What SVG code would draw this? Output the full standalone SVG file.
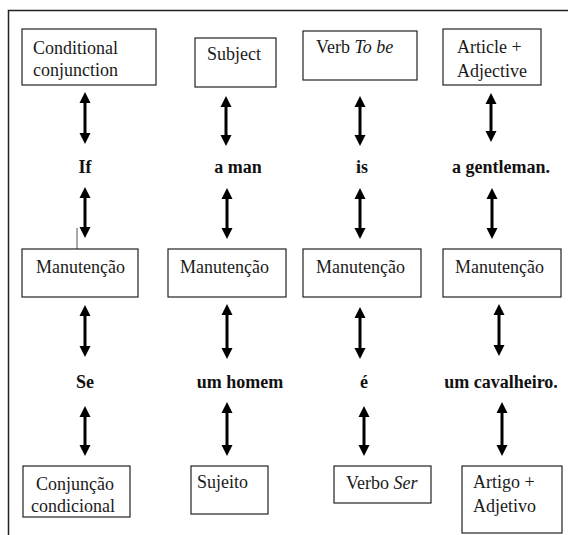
<svg xmlns="http://www.w3.org/2000/svg" width="568" height="535" viewBox="0 0 568 535">
  <style>
    .box { fill: #ffffff; stroke: #222222; stroke-width: 1.2; }
    .lbl { font-size: 18px; fill: #1a1a1a; }
    .word { font-size: 18px; font-weight: bold; fill: #111111; text-anchor: middle; }
    .arr { stroke: #000000; stroke-width: 3; marker-start: url(#head); marker-end: url(#head); }
    .frame { fill: none; stroke: #222222; stroke-width: 1.5; }
  </style>
  <defs>
    <marker id="head" markerUnits="userSpaceOnUse" markerWidth="12" markerHeight="12" viewBox="0 0 12 12" refX="1" refY="6" orient="auto-start-reverse">
      <path d="M0,0.5 L11,6 L0,11.5 Z" fill="#000000"/>
    </marker>
  </defs>

  <rect width="568" height="535" fill="#ffffff"/>

  <!-- page frame: top and left edges -->
  <path class="frame" d="M8.5,535 L8.5,10.5 L568,10.5"/>

  <!-- stray text cursor -->
  <line x1="77" y1="228" x2="77" y2="249" stroke="#555555" stroke-width="1"/>

  <g font-family="Liberation Serif, Times New Roman, DejaVu Serif, serif">
  <!-- English grammatical categories -->
  <g id="en-conjunction">
    <rect class="box" x="22" y="29" width="134" height="56"/>
    <text class="lbl" x="33" y="54">Conditional</text>
    <text class="lbl" x="33" y="76">conjunction</text>
  </g>
  <g id="en-subject">
    <rect class="box" x="195" y="38" width="81" height="49"/>
    <text class="lbl" x="207" y="60">Subject</text>
  </g>
  <g id="en-verb">
    <rect class="box" x="303" y="31" width="114" height="49"/>
    <text class="lbl" x="316" y="53">Verb <tspan font-style="italic">To be</tspan></text>
  </g>
  <g id="en-article">
    <rect class="box" x="443" y="29" width="98" height="56"/>
    <text class="lbl" x="457" y="53">Article +</text>
    <text class="lbl" x="457" y="77">Adjective</text>
  </g>

  <!-- English sentence -->
  <g id="en-words">
    <text class="word" x="85" y="173">If</text>
    <text class="word" x="238" y="173">a man</text>
    <text class="word" x="362" y="173">is</text>
    <text class="word" x="501" y="173">a gentleman.</text>
  </g>

  <!-- Maintenance boxes -->
  <g id="keep-1">
    <rect class="box" x="22" y="249" width="116" height="48"/>
    <text class="lbl" x="36" y="273">Manutenção</text>
  </g>
  <g id="keep-2">
    <rect class="box" x="168" y="249" width="118" height="48"/>
    <text class="lbl" x="180" y="273">Manutenção</text>
  </g>
  <g id="keep-3">
    <rect class="box" x="303" y="249" width="118" height="48"/>
    <text class="lbl" x="316" y="273">Manutenção</text>
  </g>
  <g id="keep-4">
    <rect class="box" x="443" y="249" width="118" height="48"/>
    <text class="lbl" x="455" y="273">Manutenção</text>
  </g>

  <!-- Portuguese sentence -->
  <g id="pt-words">
    <text class="word" x="85" y="388">Se</text>
    <text class="word" x="240" y="388">um homem</text>
    <text class="word" x="364" y="388">é</text>
    <text class="word" x="501" y="388">um cavalheiro.</text>
  </g>

  <!-- Portuguese grammatical categories -->
  <g id="pt-conjunction">
    <rect class="box" x="23" y="466" width="107" height="51"/>
    <text class="lbl" x="36" y="490">Conjunção</text>
    <text class="lbl" x="31" y="512">condicional</text>
  </g>
  <g id="pt-subject">
    <rect class="box" x="191" y="466" width="77" height="48"/>
    <text class="lbl" x="197" y="488">Sujeito</text>
  </g>
  <g id="pt-verb">
    <rect class="box" x="334" y="466" width="97" height="37"/>
    <text class="lbl" x="346" y="489">Verbo <tspan font-style="italic">Ser</tspan></text>
  </g>
  <g id="pt-article">
    <rect class="box" x="462" y="466" width="100" height="67"/>
    <text class="lbl" x="473" y="488">Artigo +</text>
    <text class="lbl" x="473" y="512">Adjetivo</text>
  </g>
  </g>

  <!-- two-way connectors (line ends sit at the base of each head) -->
  <g id="connectors">
    <line class="arr" x1="85" y1="102" x2="85" y2="134"/>
    <line class="arr" x1="226" y1="106" x2="226" y2="136"/>
    <line class="arr" x1="360" y1="106" x2="360" y2="136"/>
    <line class="arr" x1="491" y1="103" x2="491" y2="132"/>

    <line class="arr" x1="85" y1="197" x2="85" y2="228"/>
    <line class="arr" x1="227" y1="198" x2="227" y2="229"/>
    <line class="arr" x1="360" y1="198" x2="360" y2="229"/>
    <line class="arr" x1="492" y1="198" x2="492" y2="229"/>

    <line class="arr" x1="85" y1="315" x2="85" y2="347"/>
    <line class="arr" x1="227" y1="314" x2="227" y2="349"/>
    <line class="arr" x1="360" y1="317" x2="360" y2="349"/>
    <line class="arr" x1="499" y1="314" x2="499" y2="346"/>

    <line class="arr" x1="85" y1="416" x2="85" y2="446"/>
    <line class="arr" x1="227" y1="412" x2="227" y2="446"/>
    <line class="arr" x1="364" y1="416" x2="364" y2="446"/>
    <line class="arr" x1="502" y1="412" x2="502" y2="446"/>
  </g>
</svg>
